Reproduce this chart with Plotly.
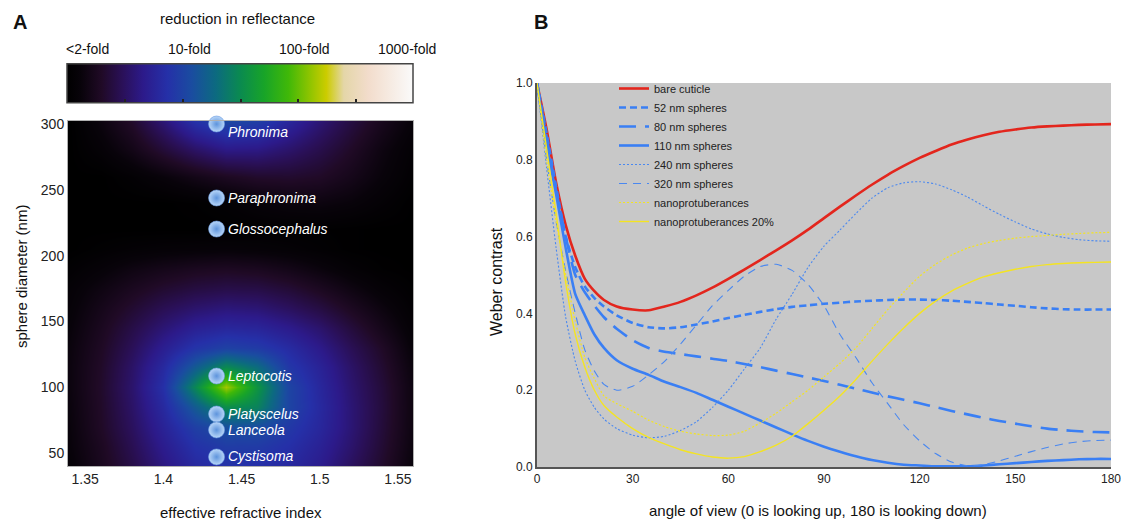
import plotly.graph_objects as go

W, H = 1121, 523
FONT = "Liberation Sans, Arial, sans-serif"

# ---------------- Panel A data ----------------
RI_GRID = [1.34, 1.36, 1.38, 1.40, 1.42, 1.44, 1.46, 1.48, 1.50, 1.52, 1.54, 1.56]
D_GRID = [40, 55, 70, 85, 100, 115, 130, 145, 160, 175, 190, 205, 220, 240, 260, 280, 302]
# log10 of reduction in reflectance, rows follow D_GRID
LOG_RED = [
    [0.10, 0.25, 0.42, 0.62, 0.80, 0.88, 0.86, 0.80, 0.68, 0.50, 0.32, 0.12],
    [0.12, 0.27, 0.46, 0.68, 0.88, 0.96, 0.95, 0.86, 0.73, 0.55, 0.35, 0.14],
    [0.13, 0.30, 0.50, 0.74, 0.98, 1.10, 1.08, 0.93, 0.78, 0.58, 0.37, 0.15],
    [0.14, 0.31, 0.53, 0.80, 1.18, 1.52, 1.45, 1.02, 0.80, 0.58, 0.38, 0.15],
    [0.15, 0.32, 0.55, 0.86, 1.48, 2.15, 1.58, 1.02, 0.78, 0.56, 0.37, 0.15],
    [0.15, 0.31, 0.53, 0.80, 1.18, 1.50, 1.30, 0.92, 0.74, 0.53, 0.34, 0.13],
    [0.14, 0.29, 0.48, 0.70, 0.90, 1.00, 0.95, 0.82, 0.66, 0.47, 0.30, 0.10],
    [0.12, 0.26, 0.42, 0.58, 0.72, 0.78, 0.76, 0.67, 0.55, 0.38, 0.22, 0.07],
    [0.10, 0.22, 0.34, 0.46, 0.55, 0.60, 0.58, 0.50, 0.40, 0.27, 0.15, 0.04],
    [0.08, 0.17, 0.26, 0.34, 0.40, 0.43, 0.42, 0.36, 0.27, 0.17, 0.08, 0.02],
    [0.04, 0.10, 0.17, 0.22, 0.26, 0.28, 0.26, 0.21, 0.14, 0.07, 0.02, 0.00],
    [0.00, 0.03, 0.06, 0.08, 0.09, 0.10, 0.09, 0.07, 0.04, 0.01, 0.00, 0.00],
    [0.00, 0.00, 0.00, 0.00, 0.00, 0.01, 0.02, 0.02, 0.02, 0.01, 0.00, 0.00],
    [0.00, 0.00, 0.00, 0.00, 0.02, 0.05, 0.10, 0.14, 0.15, 0.12, 0.06, 0.00],
    [0.00, 0.00, 0.05, 0.12, 0.20, 0.27, 0.32, 0.33, 0.30, 0.22, 0.12, 0.03],
    [0.00, 0.08, 0.20, 0.36, 0.52, 0.64, 0.63, 0.54, 0.43, 0.30, 0.16, 0.05],
    [0.00, 0.15, 0.32, 0.58, 0.88, 1.05, 0.98, 0.78, 0.58, 0.40, 0.24, 0.10],
]
SPECIES = ["Phronima", "Paraphronima", "Glossocephalus", "Leptocotis",
           "Platyscelus", "Lanceola", "Cystisoma"]
SPECIES_RI = [1.434, 1.434, 1.434, 1.434, 1.434, 1.434, 1.434]
SPECIES_D = [300, 243.8, 220.2, 108.5, 79.6, 67.5, 47.0]
LABEL_DY = [-8, 0, 0, 0, 0, 0, 1]
CB_TICKVALS = [0.5, 1, 1.5, 2, 2.5]
CB_LABELS = ["<2-fold", "10-fold", "100-fold", "1000-fold"]
CB_LABEL_POS = [0.17, 1.06, 2.06, 2.95]

# ---------------- Panel B data ----------------
ANGLE = [0, 3, 6, 9, 12, 15, 18, 21, 25, 30, 35, 40, 45, 50, 55, 60, 65, 70, 75, 80,
         85, 90, 95, 100, 105, 110, 115, 120, 125, 130, 135, 140, 145, 150, 155, 160,
         165, 170, 175, 180]
BARE = [1.0, 0.88, 0.74, 0.63, 0.55, 0.49, 0.458, 0.435, 0.418, 0.41, 0.408, 0.418,
        0.43, 0.447, 0.467, 0.49, 0.514, 0.539, 0.564, 0.59, 0.618, 0.648, 0.678,
        0.707, 0.735, 0.761, 0.784, 0.805, 0.823, 0.84, 0.853, 0.864, 0.873, 0.879,
        0.884, 0.887, 0.889, 0.891, 0.892, 0.893]
S52 = [1.0, 0.87, 0.73, 0.60, 0.52, 0.47, 0.44, 0.418, 0.395, 0.375, 0.364, 0.361,
       0.364, 0.371, 0.379, 0.388, 0.396, 0.404, 0.411, 0.417, 0.421, 0.425, 0.428,
       0.431, 0.433, 0.435, 0.436, 0.436, 0.435, 0.433, 0.43, 0.427, 0.423, 0.42,
       0.416, 0.413, 0.411, 0.41, 0.41, 0.41]
S80 = [1.0, 0.86, 0.72, 0.60, 0.50, 0.455, 0.42, 0.39, 0.36, 0.33, 0.31, 0.30,
       0.294, 0.288, 0.282, 0.276, 0.268, 0.26, 0.251, 0.242, 0.233, 0.224, 0.214,
       0.204, 0.194, 0.184, 0.175, 0.166, 0.156, 0.146, 0.137, 0.128, 0.12, 0.113,
       0.106, 0.1, 0.096, 0.093, 0.091, 0.09]
S110 = [1.0, 0.84, 0.71, 0.57, 0.45, 0.395, 0.345, 0.31, 0.278, 0.256, 0.24, 0.222,
        0.208, 0.193, 0.175, 0.157, 0.139, 0.121, 0.103, 0.085, 0.068, 0.053, 0.04,
        0.028, 0.018, 0.011, 0.006, 0.004, 0.002, 0.002, 0.002, 0.004, 0.007, 0.01,
        0.013, 0.016, 0.018, 0.02, 0.021, 0.021]
S240 = [1.0, 0.78, 0.57, 0.39, 0.275, 0.20, 0.155, 0.125, 0.10, 0.083, 0.076, 0.08,
        0.095, 0.118, 0.155, 0.20, 0.255, 0.31, 0.385, 0.45, 0.52, 0.575, 0.617, 0.66,
        0.70, 0.727, 0.74, 0.743, 0.737, 0.722, 0.703, 0.68, 0.658, 0.638, 0.62,
        0.607, 0.598, 0.592, 0.589, 0.588]
S320 = [1.0, 0.80, 0.64, 0.51, 0.40, 0.305, 0.25, 0.215, 0.20, 0.21, 0.24, 0.275,
        0.32, 0.37, 0.42, 0.46, 0.497, 0.522, 0.528, 0.512, 0.475, 0.42, 0.345, 0.285,
        0.22, 0.165, 0.11, 0.068, 0.035, 0.013, 0.003, 0.006, 0.016, 0.028, 0.04,
        0.051, 0.06, 0.066, 0.069, 0.07]
NANO = [1.0, 0.80, 0.64, 0.50, 0.38, 0.285, 0.23, 0.185, 0.165, 0.145, 0.122, 0.105,
        0.093, 0.086, 0.082, 0.083, 0.093, 0.115, 0.14, 0.17, 0.20, 0.235, 0.27,
        0.31, 0.36, 0.41, 0.455, 0.497, 0.528, 0.552, 0.57, 0.582, 0.59, 0.596, 0.60,
        0.603, 0.606, 0.608, 0.61, 0.611]
NANO20 = [1.0, 0.83, 0.66, 0.48, 0.345, 0.26, 0.20, 0.16, 0.13, 0.10, 0.077, 0.06,
          0.045, 0.034, 0.026, 0.023, 0.027, 0.04, 0.057, 0.08, 0.113, 0.148, 0.185,
          0.228, 0.275, 0.32, 0.362, 0.40, 0.432, 0.458, 0.478, 0.495, 0.506, 0.515,
          0.522, 0.527, 0.53, 0.532, 0.533, 0.534]

SERIES = [
    ("bare cuticle", BARE, "#e3261d", 2.6, "solid"),
    ("52 nm spheres", S52, "#3a7ff4", 2.6, "7px,4px"),
    ("80 nm spheres", S80, "#3a7ff4", 2.6, "17px,9px"),
    ("110 nm spheres", S110, "#3a7ff4", 2.6, "solid"),
    ("240 nm spheres", S240, "#4a88f0", 1.1, "2px,2px"),
    ("320 nm spheres", S320, "#4a88f0", 1.1, "8px,6px"),
    ("nanoprotuberances", NANO, "#f4e422", 1.2, "2px,2px"),
    ("nanoprotuberances 20%", NANO20, "#f4e422", 1.4, "solid"),
]

COLORSCALE = [
    [0.0, "#000000"], [0.04, "#08030a"], [0.10, "#200a26"], [0.16, "#2a1058"],
    [0.22, "#2c1a8a"], [0.29, "#2530a8"], [0.36, "#1a4ca0"], [0.43, "#0c6a80"],
    [0.50, "#0a8a50"], [0.57, "#18a428"], [0.64, "#40b808"], [0.70, "#8cc400"],
    [0.75, "#cccc00"], [0.80, "#e4d6a8"], [0.87, "#f2dccb"], [1.0, "#fafafa"],
]


def px(x):
    return x / W


def py(y):
    return 1 - y / H


fig = go.Figure()

fig.add_trace(go.Heatmap(
    x=RI_GRID, y=D_GRID, z=LOG_RED, zmin=0, zmax=3, zsmooth="best",
    colorscale=COLORSCALE, xaxis="x", yaxis="y", hoverinfo="skip",
    colorbar=dict(
        orientation="h", x=px(240.5), xanchor="center", y=py(85.5), yanchor="middle",
        lenmode="pixels", len=346, thickness=39, thicknessmode="pixels",
        xpad=0, ypad=0, outlinecolor="#444", outlinewidth=1.5,
        tickvals=CB_TICKVALS, ticks="inside", ticklen=4, tickwidth=1.5,
        tickcolor="#222", showticklabels=False,
    ),
))

fig.add_trace(go.Scatter(
    x=SPECIES_RI, y=SPECIES_D, mode="markers", xaxis="x", yaxis="y", showlegend=False,
    marker=dict(size=16, color="#b8d6f8", line=dict(color="#6a9be0", width=0.6),
                gradient=dict(type="radial", color="#5e94dc")),
    cliponaxis=False, hoverinfo="skip",
))

for name, vals, color, width, dash in SERIES:
    fig.add_trace(go.Scatter(
        x=ANGLE, y=vals, name=name, mode="lines", xaxis="x2", yaxis="y2",
        line=dict(color=color, width=width, dash=dash, shape="spline", smoothing=0.6),
    ))

axis_font = dict(family=FONT, size=14, color="#222")
b_font = dict(family=FONT, size=12, color="#222")
fig.update_layout(
    width=W, height=H, margin=dict(l=0, r=0, t=0, b=0, autoexpand=False),
    paper_bgcolor="white", plot_bgcolor="#c8c8c8",
    font=dict(family=FONT, color="#222"),
    xaxis=dict(domain=[px(68), px(413)], range=[1.339, 1.5596], anchor="y",
               tickvals=[1.35, 1.4, 1.45, 1.5, 1.55],
               ticktext=["1.35", "1.4", "1.45", "1.5", "1.55"],
               showgrid=False, zeroline=False, ticks="", tickfont=axis_font,
               showline=True, linecolor="#b0b0b0", linewidth=1, mirror=True),
    yaxis=dict(domain=[py(466), py(121)], range=[40.1, 302.3], anchor="x",
               tickvals=[50, 100, 150, 200, 250, 300],
               showgrid=False, zeroline=False, ticks="", tickfont=axis_font,
               showline=True, linecolor="#b0b0b0", linewidth=1, mirror=True),
    xaxis2=dict(domain=[px(537), px(1111)], range=[0, 180], anchor="y2",
                tickvals=[0, 30, 60, 90, 120, 150, 180], ticklabeloverflow="allow",
                showgrid=False, zeroline=False, ticks="", tickfont=b_font,
                showline=True, linecolor="#555", linewidth=2),
    yaxis2=dict(domain=[py(467), py(83)], range=[0, 1.0], anchor="x2",
                tickvals=[0, 0.2, 0.4, 0.6, 0.8, 1.0], tickformat=".1f",
                ticklabeloverflow="allow",
                showgrid=False, zeroline=False, ticks="", tickfont=b_font,
                showline=True, linecolor="#555", linewidth=2),
    legend=dict(x=px(614), y=py(74), xanchor="left", yanchor="top",
                bgcolor="rgba(0,0,0,0)", font=dict(family=FONT, size=11, color="#222"),
                tracegroupgap=0, itemwidth=30),
    showlegend=True,
)

annotations = []
for a_text, ax_, ay_, asz, ang in [
    ("<b>A</b>", 20, 22, 20, 0),
    ("<b>B</b>", 541, 22, 20, 0),
    ("reduction in reflectance", 237, 18, 15, 0),
    ("effective refractive index", 241, 512, 15, 0),
    ("angle of view (0 is looking up, 180 is looking down)", 818, 510, 15, 0),
    ("sphere diameter (nm)", 21, 277, 15, -90),
    ("Weber contrast", 496, 282, 16, -90),
]:
    annotations.append(dict(text=a_text, x=px(ax_), y=py(ay_), xref="paper", yref="paper",
                            showarrow=False, xanchor="center", yanchor="middle",
                            textangle=ang,
                            font=dict(family=FONT, size=asz, color="#111")))
# colour-bar tick labels, placed along the colour bar's own 0..3 scale
for lab, pos in zip(CB_LABELS, CB_LABEL_POS):
    annotations.append(dict(text=lab, x=px(68 + pos / 3 * 345), y=py(49), xref="paper",
                            yref="paper", showarrow=False, xanchor="center",
                            yanchor="middle",
                            font=dict(family=FONT, size=14, color="#111")))
# species labels next to their markers
for name, xv, yv, dy in zip(SPECIES, SPECIES_RI, SPECIES_D, LABEL_DY):
    annotations.append(dict(text=name, x=xv, y=yv, xref="x", yref="y", showarrow=False,
                            xanchor="left", yanchor="middle", xshift=9, yshift=dy,
                            font=dict(family=FONT, size=14, color="white", style="italic")))
fig.update_layout(annotations=annotations)

fig.write_html("out.html", config={"displayModeBar": False},
               post_script="document.body.style.margin='0px';")
